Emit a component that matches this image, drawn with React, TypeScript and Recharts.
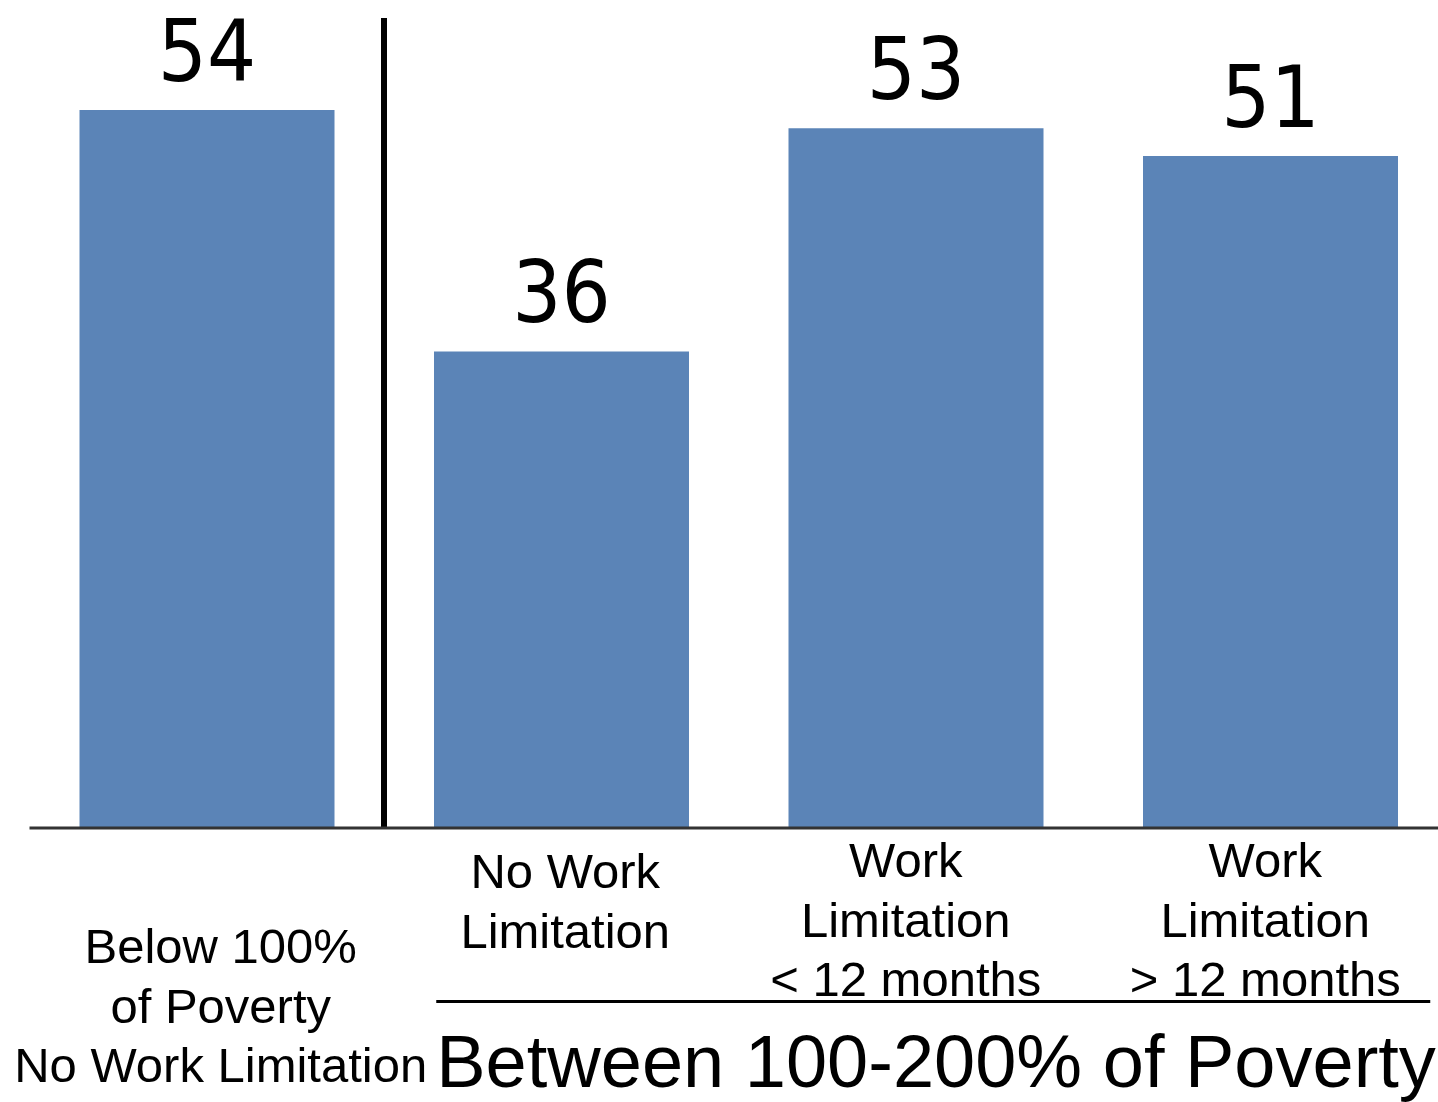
import React from 'react';
import { BarChart, Bar, XAxis, YAxis, ReferenceLine, LabelList } from 'recharts';

const categories = [
  'Below 100% of Poverty No Work Limitation',
  'No Work Limitation',
  'Work Limitation < 12 months',
  'Work Limitation > 12 months',
];
const values = [54.4, 36.1, 53.0, 50.9];
const tickLabels = [
  ['Below 100%', 'of Poverty', 'No Work Limitation'],
  ['No Work', 'Limitation'],
  ['Work', 'Limitation', '< 12 months'],
  ['Work', 'Limitation', '> 12 months'],
];
const groupTitle = 'Between 100-200% of Poverty';
const yDomainMax = 61.36;

const data = categories.map((c, i) => ({ name: c, value: values[i] }));

const tickTopOffsets = [135, 60, 49, 49];
const tickDx = [14, 4, -10, -5];
const FONT = '"Liberation Sans", Arial, sans-serif';

function Tick(props: any) {
  const { x, y, payload } = props;
  const i = payload.index;
  const lines = tickLabels[i] || [];
  const cx = x + tickDx[i];
  return (
    <g>
      <text x={cx} y={y + tickTopOffsets[i]} textAnchor="middle" fontFamily={FONT} fontSize={49} fill="#000">
        {lines.map((l, k) => (
          <tspan key={k} x={cx} dy={k === 0 ? 0 : 59.5}>
            {l}
          </tspan>
        ))}
      </text>
      {i === 1 && (
        <g>
          <line x1={x - 125} x2={x + 869} y1={y + 173.5} y2={y + 173.5} stroke="#000" strokeWidth={3} />
          <text x={x - 125} y={y + 259} textAnchor="start" fontFamily={FONT} fontSize={74} fill="#000">
            {groupTitle}
          </text>
        </g>
      )}
    </g>
  );
}

export default function App() {
  return (
    <div style={{ position: 'absolute', left: 0, top: 0, width: 1438, height: 1102, overflow: 'hidden', background: '#fff' }}>
      <BarChart
        width={1448}
        height={1102}
        data={data}
        margin={{ top: 18, right: 0.5, left: 29.5, bottom: 0 }}
        barCategoryGap={0}
      >
        <YAxis hide domain={[0, yDomainMax]} />
        <XAxis
          dataKey="name"
          height={274}
          tickLine={false}
          tickSize={0}
          tickMargin={0}
          interval={0}
          axisLine={{ stroke: '#333333', strokeWidth: 3 }}
          tick={<Tick />}
        />
        <Bar dataKey="value" fill="#5B84B7" barSize={255} isAnimationActive={false}>
          <LabelList
            dataKey="value"
            position="top"
            offset={29}
            formatter={(v: any) => Math.round(Number(v))}
            fill="#000"
            style={{ fontFamily: '"DejaVu Sans Condensed", "DejaVu Sans", sans-serif', fontSize: 86 }}
          />
        </Bar>
        <ReferenceLine x={categories[0]} position="end" stroke="#000" strokeWidth={6} />
      </BarChart>
    </div>
  );
}
